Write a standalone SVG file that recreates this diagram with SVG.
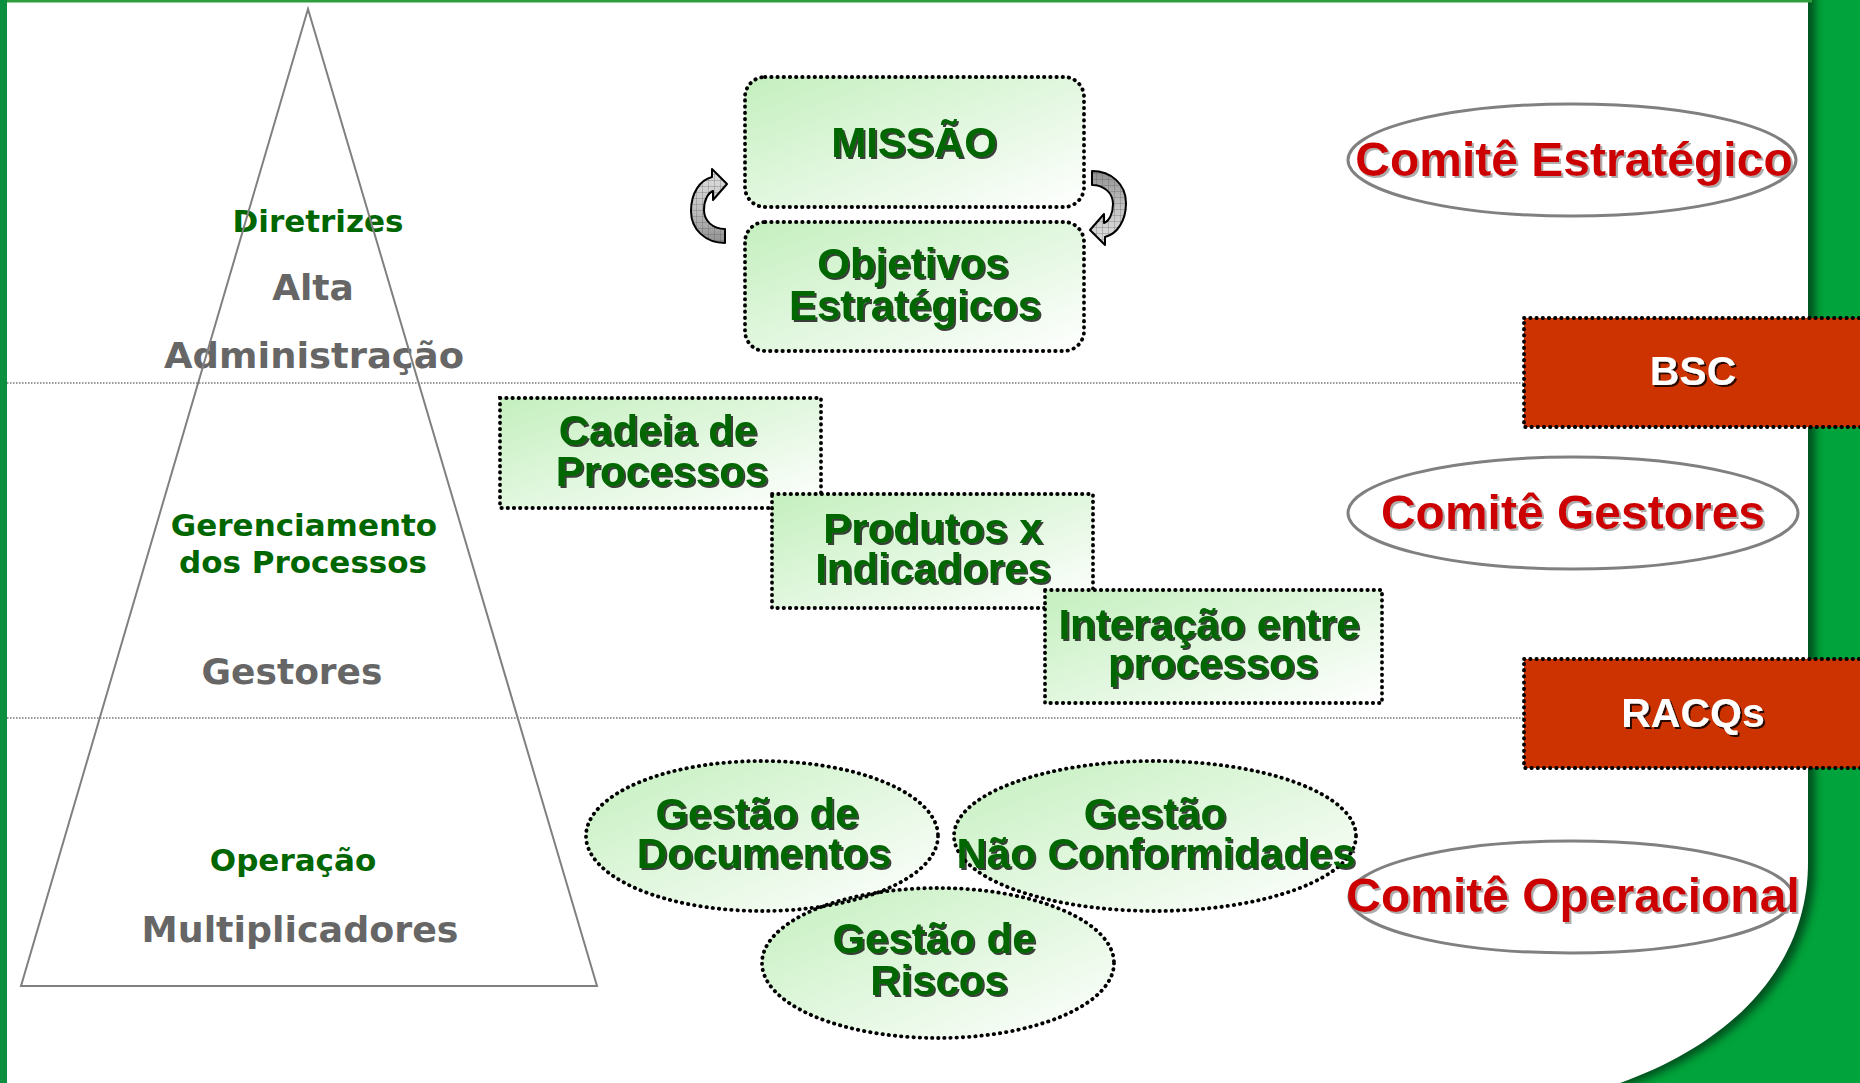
<svg xmlns="http://www.w3.org/2000/svg" width="1860" height="1083" viewBox="0 0 1860 1083">
<style>
.lvl{font-family:"DejaVu Sans",Verdana,sans-serif;font-weight:bold;text-anchor:middle}
.lg{font-size:31px;fill:#006600}
.lgray{font-size:36px;fill:#666666}
.bx{font-family:"Liberation Sans",Arial,sans-serif;font-weight:bold;font-size:42px;fill:#006600;text-anchor:middle}
.cm{font-family:"Liberation Sans",Arial,sans-serif;font-weight:bold;font-size:48px;fill:#CC0000;text-anchor:middle}
.rb{font-family:"Liberation Sans",Arial,sans-serif;font-weight:bold;font-size:41px;fill:#FFFFFF;text-anchor:middle}
.dotb{stroke:#000;stroke-width:3.8;stroke-dasharray:0.4 5.8;stroke-linecap:round}
.sep{stroke:#333;stroke-width:1.2;stroke-dasharray:1.5 1.5;fill:none}
.ell{fill:#FFFFFF;stroke:#808080;stroke-width:3}
.arr{stroke:#000;stroke-width:2;stroke-linejoin:round}
</style>
<defs>
<linearGradient id="gBox" x1="0" y1="0" x2="1" y2="1">
<stop offset="0" stop-color="#C4EFBE"/>
<stop offset="1" stop-color="#FFFFFF"/>
</linearGradient>
<linearGradient id="gArr" x1="0" y1="0" x2="0" y2="1">
<stop offset="0" stop-color="#E0E0E0"/>
<stop offset="0.5" stop-color="#C4C4C4"/>
<stop offset="1" stop-color="#909090"/>
</linearGradient>
<pattern id="grid" width="6" height="6" patternUnits="userSpaceOnUse">
<path d="M0,0.5 H6 M0.5,0 V6" stroke="#555" stroke-width="0.8" stroke-opacity="0.35" fill="none"/>
</pattern>
<filter id="shG" x="-10%" y="-20%" width="120%" height="150%">
<feDropShadow dx="2" dy="2" stdDeviation="0.4" flood-color="#000" flood-opacity="0.75"/>
</filter>
<filter id="shR" x="-10%" y="-20%" width="120%" height="150%">
<feDropShadow dx="2" dy="2" stdDeviation="0.5" flood-color="#999" flood-opacity="0.8"/>
</filter>
<filter id="shK" x="-10%" y="-20%" width="120%" height="150%">
<feDropShadow dx="2" dy="2" stdDeviation="0.4" flood-color="#000" flood-opacity="0.8"/>
</filter>
<filter id="blur" x="-5%" y="-5%" width="110%" height="110%">
<feGaussianBlur stdDeviation="4"/>
</filter>
<path id="arrowL" d="M725,229 L725,243 C706,243 691,230 691,211 C691,193 700,180 712,177 L712,169 L727,184 L713,200 L713,191 C708,193 704,200 704,210 C704,221 713,229 725,229 Z"/>
</defs>

<!-- background frame -->
<g id="frame">
<rect x="0" y="0" width="1860" height="1083" fill="#FFFFFF"/>
<rect x="1560" y="0" width="300" height="1083" fill="#00A33C"/>
<path d="M0,-20 L1808,-20 L1808,863 C1808,960 1740,1040 1620,1083 L0,1083 Z" fill="#00501F" filter="url(#blur)" transform="translate(7,3)"/>
<path d="M0,0 L1808,0 L1808,863 C1808,960 1740,1040 1620,1083 L0,1083 Z" fill="#FFFFFF"/>
<rect x="0" y="0" width="1812" height="2.5" fill="#2E9E3E"/>
<rect x="0" y="0" width="7" height="1083" fill="#0C9040"/>
</g>

<!-- separators -->
<g id="separators">
<line class="sep" x1="7" y1="383" x2="1524" y2="383"/>
<line class="sep" x1="7" y1="718" x2="1524" y2="718"/>
</g>

<!-- pyramid labels -->
<g id="pyramid-labels">
<text class="lvl lg" x="318" y="232">Diretrizes</text>
<text class="lvl lgray" x="313" y="300">Alta</text>
<text class="lvl lgray" x="314" y="368" textLength="300" lengthAdjust="spacingAndGlyphs">Administração</text>
<text class="lvl lg" x="304" y="536">Gerenciamento</text>
<text class="lvl lg" x="303" y="573">dos Processos</text>
<text class="lvl lgray" x="292" y="684">Gestores</text>
<text class="lvl lg" x="293" y="871">Operação</text>
<text class="lvl lgray" x="300" y="942" textLength="317" lengthAdjust="spacingAndGlyphs">Multiplicadores</text>
</g>

<g id="pyramid">
<polygon points="308,9 21,986 597,986" fill="none" stroke="#808080" stroke-width="2"/>
</g>

<!-- strategic boxes -->
<g id="missao">
<rect x="745" y="77" width="339" height="130" rx="20" fill="url(#gBox)"/>
<rect class="dotb" x="745" y="77" width="339" height="130" rx="20" fill="none"/>
<text class="bx" x="914" y="157" filter="url(#shG)">MISSÃO</text>
</g>
<g id="objetivos">
<rect x="745" y="222" width="339" height="129" rx="20" fill="url(#gBox)"/>
<rect class="dotb" x="745" y="222" width="339" height="129" rx="20" fill="none"/>
<text class="bx" x="913" y="278" filter="url(#shG)">Objetivos</text>
<text class="bx" x="915" y="320" filter="url(#shG)">Estratégicos</text>
</g>

<g id="connectors">
<g id="arrow-left">
<use href="#arrowL" fill="url(#gArr)"/>
<use href="#arrowL" fill="url(#grid)"/>
<use href="#arrowL" class="arr" fill="none"/>
</g>
<g id="arrow-right" transform="translate(1817 414) rotate(180)">
<use href="#arrowL" fill="url(#gArr)"/>
<use href="#arrowL" fill="url(#grid)"/>
<use href="#arrowL" class="arr" fill="none"/>
</g>
</g>

<!-- process boxes -->
<g id="cadeia">
<rect x="500" y="398" width="321" height="110" fill="url(#gBox)"/>
<rect class="dotb" x="500" y="398" width="321" height="110" fill="none"/>
<text class="bx" x="658" y="445" filter="url(#shG)">Cadeia de</text>
<text class="bx" x="662" y="486" filter="url(#shG)">Processos</text>
</g>
<g id="produtos">
<rect x="772" y="494" width="321" height="114" fill="url(#gBox)"/>
<rect class="dotb" x="772" y="494" width="321" height="114" fill="none"/>
<text class="bx" x="933" y="543" filter="url(#shG)">Produtos x</text>
<text class="bx" x="933" y="583" filter="url(#shG)">Indicadores</text>
</g>
<g id="interacao">
<rect x="1045" y="590" width="337" height="113" fill="url(#gBox)"/>
<rect class="dotb" x="1045" y="590" width="337" height="113" fill="none"/>
<text class="bx" x="1209" y="639" filter="url(#shG)">Interação entre</text>
<text class="bx" x="1213" y="678" filter="url(#shG)">processos</text>
</g>

<!-- operational ellipses -->
<g id="ellipse-fills">
<ellipse cx="762" cy="836" rx="176" ry="75" fill="url(#gBox)"/>
<ellipse cx="1155" cy="836" rx="201" ry="75" fill="url(#gBox)"/>
<ellipse cx="938" cy="963" rx="176" ry="75" fill="url(#gBox)"/>
</g>
<g id="gestao-documentos">
<ellipse class="dotb" cx="762" cy="836" rx="176" ry="75" fill="none"/>
<text class="bx" x="757" y="828" filter="url(#shG)">Gestão de</text>
<text class="bx" x="764" y="868" filter="url(#shG)">Documentos</text>
</g>
<g id="gestao-nc">
<ellipse class="dotb" cx="1155" cy="836" rx="201" ry="75" fill="none"/>
<text class="bx" x="1155" y="828" filter="url(#shG)">Gestão</text>
<text class="bx" x="1156" y="868" filter="url(#shG)">Não Conformidades</text>
</g>
<g id="gestao-riscos">
<ellipse class="dotb" cx="938" cy="963" rx="176" ry="75" fill="none"/>
<text class="bx" x="934" y="953" filter="url(#shG)">Gestão de</text>
<text class="bx" x="939" y="995" filter="url(#shG)">Riscos</text>
</g>

<!-- committees -->
<g id="comite-estrategico">
<ellipse class="ell" cx="1572" cy="160" rx="224" ry="56"/>
<text class="cm" x="1574" y="176" filter="url(#shR)">Comitê Estratégico</text>
</g>
<g id="comite-gestores">
<ellipse class="ell" cx="1573" cy="513" rx="225" ry="56"/>
<text class="cm" x="1573" y="529" filter="url(#shR)">Comitê Gestores</text>
</g>
<g id="comite-operacional">
<ellipse class="ell" cx="1571" cy="897" rx="222" ry="56"/>
<text class="cm" x="1573" y="912" filter="url(#shR)">Comitê Operacional</text>
</g>

<!-- tools -->
<g id="bsc">
<rect x="1524" y="318" width="340" height="109" fill="#CC3300"/>
<rect class="dotb" x="1524" y="318" width="340" height="109" fill="none"/>
<text class="rb" x="1693" y="385" filter="url(#shK)">BSC</text>
</g>
<g id="racqs">
<rect x="1524" y="659" width="340" height="109" fill="#CC3300"/>
<rect class="dotb" x="1524" y="659" width="340" height="109" fill="none"/>
<text class="rb" x="1693" y="727" filter="url(#shK)">RACQs</text>
</g>
</svg>
